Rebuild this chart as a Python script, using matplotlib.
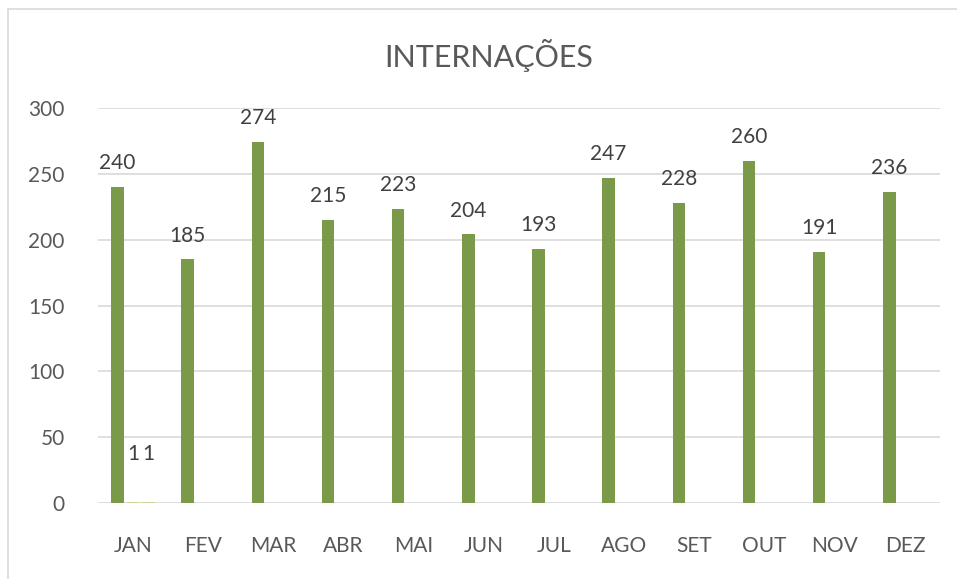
import numpy as np
import matplotlib.pyplot as plt
from matplotlib.patches import Rectangle

months = ['JAN', 'FEV', 'MAR', 'ABR', 'MAI', 'JUN', 'JUL', 'AGO', 'SET', 'OUT', 'NOV', 'DEZ']
internacoes = [240, 185, 274, 215, 223, 204, 193, 247, 228, 260, 191, 236]
serie_2 = [1, np.nan, np.nan, np.nan, np.nan, np.nan, np.nan, np.nan, np.nan, np.nan, np.nan, np.nan]
serie_3 = [1, np.nan, np.nan, np.nan, np.nan, np.nan, np.nan, np.nan, np.nan, np.nan, np.nan, np.nan]
y_ticks = [0, 50, 100, 150, 200, 250, 300]

plt.rcParams['font.family'] = ['Lato', 'DejaVu Sans']
text_color = '#595959'
grid_color = '#D9D9D9'

fig = plt.figure(figsize=(9.57, 5.79), dpi=100)
ax = fig.add_axes([98 / 957, 1 - 503 / 579, (940 - 98) / 957, (503 - 108) / 579])

x = np.arange(len(months))
w = 0.18
off = 0.222
b1 = ax.bar(x - off, internacoes, w, color='#7A9A49', zorder=3)
b2 = ax.bar(x, serie_2, w, color='#C4D79B', zorder=3)
b3 = ax.bar(x + off, serie_3, w, color='#C4D79B', zorder=3)

# data labels
for rect, v in zip(b1, internacoes):
    ax.annotate(str(v), (rect.get_x() + rect.get_width() / 2, v), xytext=(0, 10),
                textcoords='offset points', ha='center', va='bottom',
                fontsize=15, color='#404040')
for bars, vals in ((b2, serie_2), (b3, serie_3)):
    for rect, v in zip(bars, vals):
        if np.isnan(v):
            continue
        ax.annotate(str(v), (rect.get_x() + rect.get_width() / 2, v), xytext=(0, 27),
                    textcoords='offset points', ha='center', va='bottom',
                    fontsize=15, color='#404040')

ax.set_xlim(-0.5, len(months) - 0.5)
ax.set_ylim(0, 300)
ax.set_yticks(y_ticks)
ax.set_xticks(x)
ax.set_xticklabels(months)
ax.tick_params(axis='both', length=0, labelsize=15, colors=text_color)
ax.tick_params(axis='x', pad=24)
ax.tick_params(axis='y', pad=24)
ax.grid(axis='y', color=grid_color, linewidth=1.2, zorder=0)
for s in ax.spines.values():
    s.set_visible(False)

fig.text(489 / 957, 1 - 55 / 579, 'INTERNAÇÕES', ha='center', va='center',
         fontsize=22, color=text_color)

# chart border (cropped on the right and bottom)
fig.patches.append(Rectangle((8 / 957, -0.1), 1.2, 1.1 - 9.5 / 579,
                             transform=fig.transFigure, fill=False,
                             edgecolor=grid_color, linewidth=1.2))

fig.savefig('out.png', dpi=100)
